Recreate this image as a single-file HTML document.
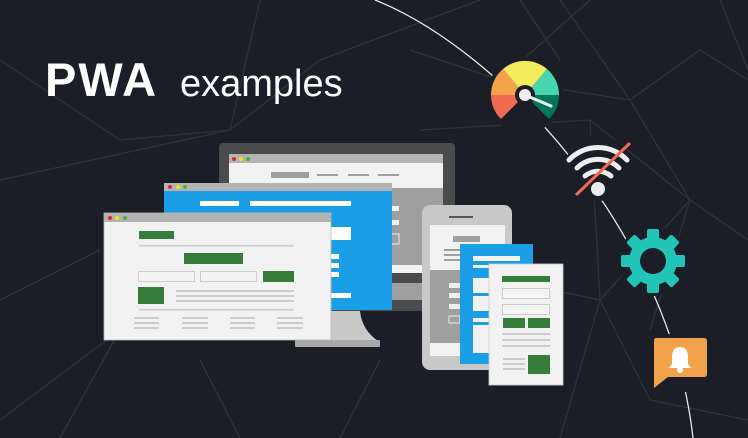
<!DOCTYPE html>
<html><head><meta charset="utf-8"><style>
html,body{margin:0;padding:0;background:#1b1e26;}
svg{display:block}
</style></head><body>
<svg width="748" height="438" viewBox="0 0 748 438" xmlns="http://www.w3.org/2000/svg">
<rect width="748" height="438" fill="#1b1e26"/>
<g stroke="#2e323c" stroke-width="1.3" fill="none">
<path d="M0,180 L230,130 L320,60 L480,0"/>
<path d="M230,130 L260,0"/>
<path d="M0,60 L120,140 L230,130"/>
<path d="M410,50 L500,80 L630,100 L690,200 L600,300 L460,270"/>
<path d="M500,80 L590,0 M630,100 L560,0 M630,100 L700,50 L748,80"/>
<path d="M420,130 L590,120 L690,200 L748,240"/>
<path d="M590,120 L600,300 L650,400 L748,420"/>
<path d="M600,300 L560,438 M690,200 L650,330"/>
<path d="M0,420 L120,330 L60,438 M200,360 L240,438 M380,360 L340,438"/>
<path d="M0,300 L100,250"/>
<path d="M720,0 L748,70 M520,0 L560,60"/>
</g>
<path d="M375,0 C500,50 670,230 693,438" stroke="#e8e8e8" stroke-width="1.3" fill="none"/>
<text x="45" y="96" font-family="Liberation Sans, sans-serif" font-weight="bold" font-size="47" letter-spacing="2" fill="#fff">PWA</text>
<text x="180" y="96" font-family="Liberation Sans, sans-serif" font-size="38" fill="#fff">examples</text>

<!-- icon halos -->
<circle cx="525" cy="95" r="38" fill="#1b1e26"/>
<circle cx="598" cy="168" r="33" fill="#1b1e26"/>
<circle cx="653" cy="261" r="35" fill="#1b1e26"/>
<rect x="648" y="334" width="64" height="58" fill="#1b1e26"/>

<!-- gauge -->
<g transform="translate(525,95)">
<path d="M0,0 L-34,0 A34,34 0 0 0 -24,24 Z" fill="#ef6a52"/>
<path d="M0,0 L-22,-26 A34,34 0 0 0 -34,0 Z" fill="#f2a24b"/>
<path d="M0,0 L22,-26 A34,34 0 0 0 -22,-26 Z" fill="#f3ec5a"/>
<path d="M0,0 L34,0 A34,34 0 0 0 22,-26 Z" fill="#47d6b0"/>
<path d="M0,0 L24,24 A34,34 0 0 0 34,0 Z" fill="#00775a"/>
<circle r="10" fill="#1b1e26"/>
<circle r="6" fill="#eee"/>
<line x1="0" y1="0" x2="26" y2="11" stroke="#eee" stroke-width="3" stroke-linecap="round"/>
</g>
<!-- wifi -->
<g fill="none" stroke="#eee" stroke-width="5" stroke-linecap="round">
<path d="M569,160 A40,40 0 0 1 627,160"/>
<path d="M577,168 A30,30 0 0 1 619,168"/>
<path d="M585,176 A20,20 0 0 1 611,176"/>
</g>
<circle cx="598" cy="189" r="7" fill="#eee"/>
<line x1="576" y1="195" x2="630" y2="143" stroke="#ef6a52" stroke-width="3"/>
<!-- gear -->
<g transform="translate(653,261)" fill="#22c4b8">
<circle r="24"/>
<g id="t"><rect x="-6" y="-32" width="12" height="12" rx="2"/></g>
<use href="#t" transform="rotate(45)"/><use href="#t" transform="rotate(90)"/><use href="#t" transform="rotate(135)"/>
<use href="#t" transform="rotate(180)"/><use href="#t" transform="rotate(225)"/><use href="#t" transform="rotate(270)"/><use href="#t" transform="rotate(315)"/>
<circle r="13" fill="#1b1e26"/>
</g>
<!-- bell bubble -->
<path d="M656,338 H704 Q707,338 707,341 V374 Q707,377 704,377 H668 L654,388 V341 Q654,338 656,338 Z" fill="#f2a24b"/>
<path d="M680,347 Q672,347 672,357 V364 L669,368 H691 L688,364 V357 Q688,347 680,347 Z" fill="#fff"/>
<circle cx="680" cy="370" r="3" fill="#fff"/>

<!-- monitor -->
<rect x="219" y="143" width="236" height="168" rx="4" fill="#4b4b4b"/>
<path d="M318,311 H360 Q362,330 378,341 H297 Q314,330 318,311 Z" fill="#c9c9c9"/>
<rect x="295" y="340" width="85" height="7" rx="1" fill="#a8a8a8"/>
<rect x="229" y="154" width="214" height="146" fill="#9f9f9f"/>
<rect x="229" y="154" width="214" height="9" fill="#b3b3b3"/>
<rect x="229" y="163" width="214" height="25" fill="#f2f2f2"/>
<circle cx="234" cy="159" r="2" fill="#d32f2f"/><circle cx="241" cy="159" r="2" fill="#f5e700"/><circle cx="248" cy="159" r="2" fill="#3fb24a"/>
<rect x="271" y="172" width="38" height="6" fill="#9f9f9f"/>
<rect x="317" y="174" width="21" height="2" fill="#9f9f9f"/><rect x="348" y="174" width="21" height="2" fill="#9f9f9f"/><rect x="378" y="174" width="21" height="2" fill="#9f9f9f"/>
<rect x="229" y="265" width="214" height="8" fill="#f2f2f2"/>
<rect x="229" y="273" width="214" height="10" fill="#4b4b4b"/>
<rect x="390" y="206" width="9" height="5" fill="#eee"/><rect x="390" y="220" width="9" height="5" fill="#eee"/><rect x="390" y="234" width="9" height="10" fill="none" stroke="#eee"/>

<!-- blue window -->
<rect x="164" y="183" width="228" height="127" fill="#1a9fe6"/>
<rect x="164" y="183" width="228" height="8" fill="#b3b3b3"/>
<circle cx="170" cy="187" r="2" fill="#d32f2f"/><circle cx="178" cy="187" r="2" fill="#f5e700"/><circle cx="185" cy="187" r="2" fill="#3fb24a"/>
<rect x="200" y="201" width="39" height="5" fill="#fff"/><rect x="250" y="201" width="101" height="5" fill="#fff"/>
<rect x="331" y="227" width="20" height="13" fill="#fff"/>
<rect x="331" y="254" width="8" height="5" fill="#fff"/><rect x="331" y="263" width="8" height="5" fill="#fff"/><rect x="331" y="272" width="8" height="5" fill="#fff"/>
<rect x="331" y="293" width="20" height="5" fill="#fff"/>

<!-- white window -->
<rect x="104" y="213" width="227" height="127" fill="#f2f2f2" stroke="#bbb" stroke-width="0.8"/>
<rect x="104" y="213" width="227" height="9" fill="#b3b3b3"/>
<circle cx="110" cy="218" r="2" fill="#d32f2f"/><circle cx="117" cy="218" r="2" fill="#f5e700"/><circle cx="125" cy="218" r="2" fill="#3fb24a"/>
<rect x="139" y="231" width="35" height="8" fill="#367c3a"/>
<rect x="139" y="245" width="155" height="1.5" fill="#ccc"/>
<rect x="184" y="253" width="59" height="11" fill="#367c3a"/>
<rect x="138.5" y="271.5" width="56" height="10" fill="#f4f4f4" stroke="#ccc"/>
<rect x="200.5" y="271.5" width="56" height="10" fill="#f4f4f4" stroke="#ccc"/>
<rect x="263" y="271" width="31" height="11" fill="#367c3a"/>
<rect x="138" y="287" width="26" height="17" fill="#367c3a"/>
<rect x="176" y="290" width="118" height="2" fill="#ccc"/><rect x="176" y="295" width="118" height="2" fill="#ccc"/><rect x="176" y="300" width="118" height="2" fill="#ccc"/>
<rect x="139" y="309" width="155" height="1.5" fill="#ccc"/>
<g fill="#ccc">
<rect x="134" y="317" width="25" height="2"/><rect x="134" y="322" width="25" height="2"/><rect x="134" y="327" width="25" height="2"/>
<rect x="182" y="317" width="26" height="2"/><rect x="182" y="322" width="26" height="2"/><rect x="182" y="327" width="26" height="2"/>
<rect x="230" y="317" width="25" height="2"/><rect x="230" y="322" width="25" height="2"/><rect x="230" y="327" width="25" height="2"/>
<rect x="277" y="317" width="26" height="2"/><rect x="277" y="322" width="26" height="2"/><rect x="277" y="327" width="26" height="2"/>
</g>

<!-- phone -->
<rect x="422" y="205" width="90" height="165" rx="8" fill="#c8c8c8"/>
<rect x="449" y="216" width="24" height="2" fill="#555"/>
<rect x="430" y="225" width="75" height="131" fill="#9f9f9f"/>
<rect x="430" y="225" width="75" height="45" fill="#f2f2f2"/>
<rect x="453" y="236" width="27" height="6" fill="#9f9f9f"/>
<rect x="444" y="249" width="20" height="2" fill="#9f9f9f"/><rect x="444" y="254" width="20" height="2" fill="#9f9f9f"/><rect x="444" y="259" width="20" height="2" fill="#9f9f9f"/>
<rect x="430" y="343" width="75" height="13" fill="#f2f2f2"/>
<rect x="449" y="283" width="11" height="5" fill="#eee"/><rect x="449" y="293" width="11" height="5" fill="#eee"/><rect x="449" y="304" width="11" height="5" fill="#eee"/><rect x="449" y="316" width="11" height="7" fill="none" stroke="#eee"/>
<!-- blue doc -->
<rect x="460" y="244" width="73" height="120" fill="#1a9fe6"/>
<rect x="473" y="256" width="47" height="5" fill="#f2f2f2"/>
<rect x="473" y="265" width="47" height="3" fill="#f2f2f2"/>
<rect x="473" y="278" width="20" height="15" fill="#f2f2f2"/><rect x="473" y="296" width="20" height="15" fill="#f2f2f2"/>
<rect x="473" y="318" width="20" height="4" fill="#f2f2f2"/><rect x="473" y="325" width="20" height="28" fill="#f2f2f2"/>
<!-- white doc -->
<rect x="489" y="264" width="74" height="121" fill="#f2f2f2" stroke="#ccc" stroke-width="0.8"/>
<rect x="502" y="276" width="48" height="6" fill="#367c3a"/>
<rect x="502.5" y="288.5" width="47" height="10" fill="#f4f4f4" stroke="#ccc"/>
<rect x="502.5" y="304.5" width="47" height="10" fill="#f4f4f4" stroke="#ccc"/>
<rect x="503" y="318" width="22" height="10" fill="#367c3a"/><rect x="528" y="318" width="22" height="10" fill="#367c3a"/>
<rect x="502" y="333" width="48" height="2" fill="#ccc"/><rect x="502" y="339" width="48" height="2" fill="#ccc"/><rect x="502" y="345" width="48" height="2" fill="#ccc"/>
<rect x="503" y="358" width="22" height="2" fill="#ccc"/><rect x="503" y="363" width="22" height="2" fill="#ccc"/><rect x="503" y="368" width="22" height="2" fill="#ccc"/>
<rect x="528" y="355" width="22" height="19" fill="#367c3a"/>
</svg>
</body></html>
